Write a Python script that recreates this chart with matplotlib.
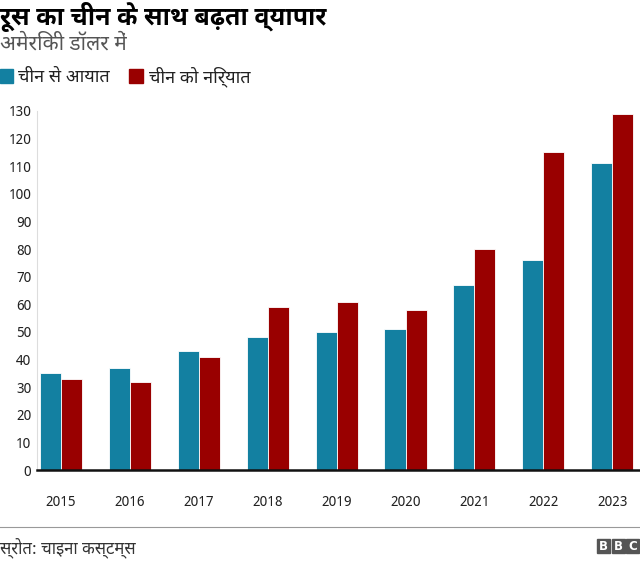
import matplotlib
matplotlib.use("Agg")
import matplotlib.pyplot as plt
from matplotlib.patches import Rectangle
import numpy as np

plt.rcParams["font.family"] = ["Noto Sans Devanagari", "Noto Sans", "DejaVu Sans"]

years = ["2015", "2016", "2017", "2018", "2019", "2020", "2021", "2022", "2023"]
imports_from_china = [35, 37, 43, 48, 50, 51, 67, 76, 111]
exports_to_china = [33, 32, 41, 59, 61, 58, 80, 115, 129]
yticks = list(range(0, 140, 10))

BLUE = "#1380a1"
RED = "#990000"

W, H = 640, 561
fig = plt.figure(figsize=(W / 100, H / 100), dpi=100, facecolor="white")


def fx(px):
    return px / W


def fy(py):
    return 1 - py / H


# main axes: left edge at 37px, x-axis at 470px, 130 at 111px
ax = fig.add_axes([fx(37), fy(470), fx(603), (470 - 111) / H])
x = np.arange(len(years))
bw = 0.305
ax.bar(x - bw / 2, imports_from_china, bw, color=BLUE, edgecolor="white", linewidth=0.6)
ax.bar(x + bw / 2, exports_to_china, bw, color=RED, edgecolor="white", linewidth=0.6)

ax.set_xlim(-0.348, 8.403)
ax.set_ylim(0, 130)
ax.set_yticks(yticks)
ax.set_yticklabels([str(t) for t in yticks], fontsize=10, color="#222222")
ax.set_xticks(x)
ax.set_xticklabels(years, fontsize=10, color="#222222")
ax.tick_params(axis="y", length=0, pad=4)
ax.tick_params(axis="x", length=0, pad=18)
for s in ["top", "right"]:
    ax.spines[s].set_visible(False)
ax.spines["left"].set_color("#dddddd")
ax.spines["left"].set_linewidth(0.8)
ax.spines["bottom"].set_color("#111111")
ax.spines["bottom"].set_linewidth(1.8)

# titles
fig.text(0, fy(17), "रूस का चीन के साथ बढ़ता व्यापार", fontsize=18, fontweight="bold",
         color="#000000", va="center", ha="left",
         family=["Noto Sans Devanagari UI", "Noto Sans Devanagari", "DejaVu Sans"])
fig.text(0, fy(44), "अमेरिकी डॉलर में", fontsize=15, color="#555555", va="center", ha="left")

# legend
fig.patches.append(Rectangle((fx(0), fy(83)), fx(13), 14 / H, color=BLUE,
                             transform=fig.transFigure, figure=fig))
fig.text(fx(18), fy(77), "चीन से आयात", fontsize=13, color="#222222", va="center")
fig.patches.append(Rectangle((fx(129), fy(83)), fx(14), 14 / H, color=RED,
                             transform=fig.transFigure, figure=fig))
fig.text(fx(149), fy(77), "चीन को निर्यात", fontsize=13, color="#222222", va="center")

# footer
fig.add_artist(plt.Line2D([0, 1], [fy(527), fy(527)], color="#999999", linewidth=0.8,
                          transform=fig.transFigure))
fig.text(0, fy(548), "स्रोत: चाइना कस्टम्स", fontsize=12, color="#333333", va="center")
for i, letter in enumerate("BBC"):
    x0 = 597 + i * 14.5
    fig.patches.append(Rectangle((fx(x0), fy(553)), fx(13), 14 / H, color="#555555",
                                 transform=fig.transFigure, figure=fig))
    fig.text(fx(x0 + 6.5), fy(546), letter, fontsize=8.5, fontweight="bold",
             color="white", ha="center", va="center", family="DejaVu Sans")

fig.savefig("out.png", dpi=100, facecolor="white")
